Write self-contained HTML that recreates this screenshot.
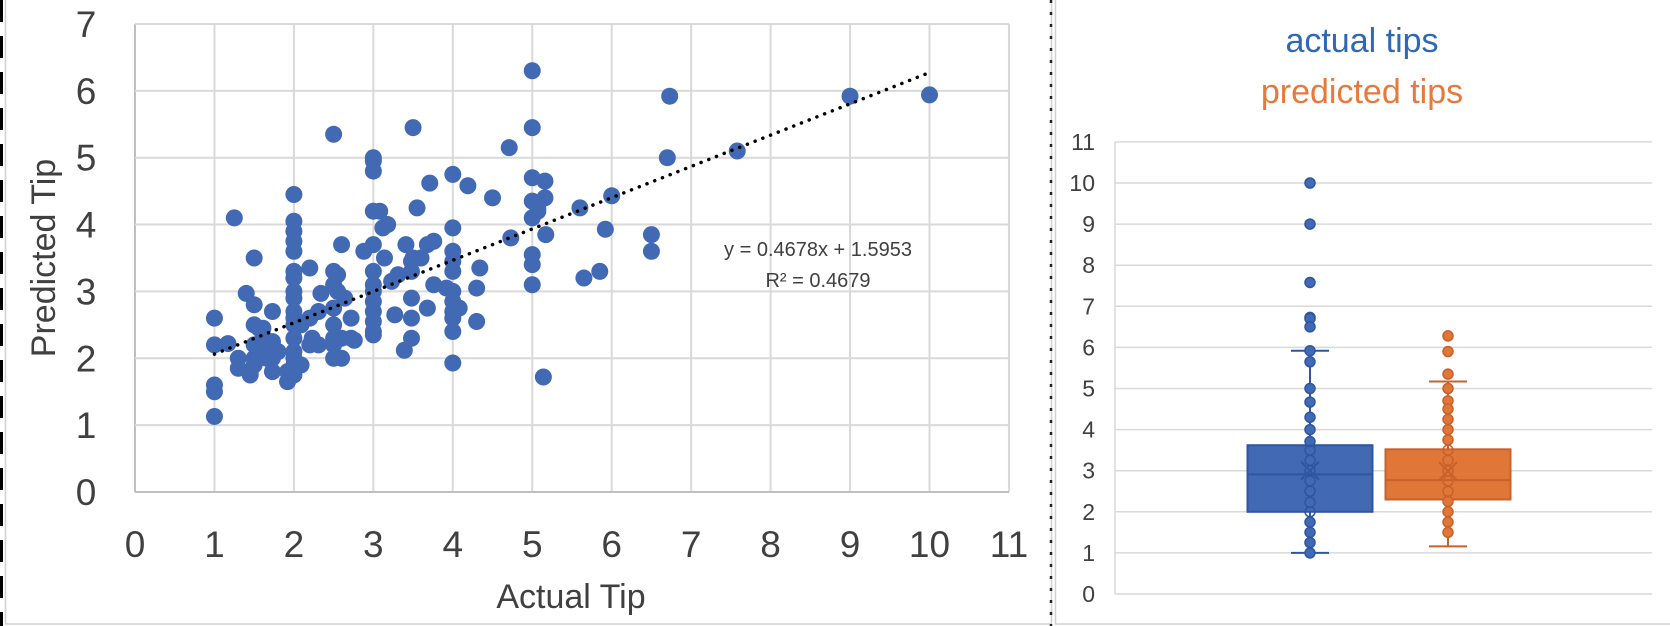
<!DOCTYPE html>
<html><head><meta charset="utf-8"><style>
html,body{margin:0;padding:0;background:#fff;width:1670px;height:626px;overflow:hidden}
svg text{font-family:"Liberation Sans",sans-serif}
</style></head><body>
<svg id="svg" width="1670" height="626" xmlns="http://www.w3.org/2000/svg">
<line x1="1.5" y1="0" x2="1.5" y2="626" stroke="#000" stroke-width="3" stroke-dasharray="22,14"/>
<rect x="5.5" y="-2" width="1046" height="626" fill="none" stroke="#d0d0d0" stroke-width="1.5"/>
<line x1="1051" y1="0" x2="1051" y2="626" stroke="#222" stroke-width="2.5" stroke-dasharray="3,9"/>
<rect x="1055.5" y="-2" width="620" height="626" fill="none" stroke="#d0d0d0" stroke-width="1.5"/>
<g id="scatter"></g>
<g id="box"></g>
</svg>
<script>
const NS='http://www.w3.org/2000/svg';
function mk(tag,attrs,parent){const e=document.createElementNS(NS,tag);for(const k in attrs)e.setAttribute(k,attrs[k]);parent.appendChild(e);return e;}

// ---------- scatter data ----------
const actualTip=[1,1,1,1,1,1.17,1.25,1.3,1.3,1.4,1.45,1.45,1.5,1.5,1.5,1.5,1.5,1.5,1.56,1.56,1.56,1.61,1.61,1.66,1.66,1.73,1.73,1.73,1.73,1.8,1.92,1.92,
2,2,2,2,2,2,2,2,2,2,2,2,2,2,2,2,2,2.09,2.09,2.2,2.2,2.2,2.23,2.31,2.31,2.34,2.5,2.5,2.5,2.5,2.5,2.5,2.5,2.5,2.55,2.55,2.6,2.6,2.6,2.64,2.72,2.72,2.76,2.88,
3,3,3,3,3,3,3,3,3,3,3,3,3,3.08,3.12,3.14,3.18,3.23,3.27,3.31,3.39,3.41,3.48,3.48,3.48,3.48,3.48,3.5,3.5,3.55,3.6,3.68,3.68,3.71,3.76,3.76,3.92,
4,4,4,4,4,4,4,4,4,4,4,4.08,4.19,4.3,4.3,4.34,4.5,4.71,4.73,5,5,5,5,5,5,5,5,5.07,5.07,5.14,5.16,5.16,5.17,5.6,5.65,5.85,5.92,6,6.5,6.5,6.7,6.73,7.58,9,10];
const predictedTip=[1.13,1.5,1.6,2.2,2.6,2.22,4.1,2.0,1.85,2.97,1.8,1.75,3.5,2.5,2.8,2.0,1.9,2.2,2.45,2.1,2.0,2.45,2.3,2.0,2.1,2.7,2.25,2.0,1.8,2.1,1.65,1.8,
4.45,4.05,3.9,3.75,3.6,3.3,3.2,3.0,2.9,2.7,2.6,2.5,2.3,2.1,2.0,1.9,1.75,1.9,2.5,3.35,2.2,2.6,2.3,2.7,2.2,2.97,5.35,3.3,3.1,2.75,2.5,2.3,2.2,2.0,3.0,3.25,3.7,2.0,2.3,2.9,2.6,2.3,2.27,3.6,
5.0,4.95,4.8,4.2,3.7,3.3,3.1,3.0,2.85,2.7,2.55,2.4,2.35,4.2,3.95,3.5,4.0,3.15,2.65,3.25,2.12,3.7,3.45,3.3,2.9,2.3,2.6,5.45,3.5,4.25,3.5,3.7,2.75,4.62,3.75,3.1,3.05,
4.75,3.95,3.6,3.45,3.3,3.0,2.85,2.7,2.6,2.4,1.93,2.75,4.58,3.05,2.55,3.35,4.4,5.15,3.8,6.3,5.45,4.7,4.35,4.1,3.55,3.4,3.1,4.2,4.25,1.72,4.4,4.65,3.85,4.25,3.2,3.3,3.93,4.43,3.6,3.85,5.0,5.92,5.1,5.92,5.94];
const xTicks=[0,1,2,3,4,5,6,7,8,9,10,11];
const yTicks=[0,1,2,3,4,5,6,7];
const trendSlope=0.4678, trendIntercept=1.5953;
const trendRange=[1,10];

const sx=v=>135+v*79.45, sy=v=>492-v*66.86;
const sc=document.getElementById('scatter');
xTicks.forEach(t=>{const l=mk('line',{x1:sx(t),x2:sx(t),y1:sy(7),y2:sy(0),stroke:t===0?'#bfbfbf':'#d9d9d9','stroke-width':2},sc);

const tx=mk('text',{x:sx(t),y:557,'text-anchor':'middle','font-size':37,fill:'#404040'},sc);tx.textContent=t;
});
yTicks.forEach(t=>{const l=mk('line',{x1:sx(0),x2:sx(11),y1:sy(t),y2:sy(t),stroke:t===0?'#bfbfbf':'#d9d9d9','stroke-width':2},sc);

const tx=mk('text',{x:86,y:sy(t)+13,'text-anchor':'middle','font-size':37,fill:'#404040'},sc);tx.textContent=t;
});
actualTip.forEach((a,i)=>{const c=mk('circle',{cx:sx(a),cy:sy(predictedTip[i]),r:8.5,fill:'#4169b4'},sc);
});
const tl=mk('line',{x1:sx(trendRange[0]),y1:sy(trendSlope*trendRange[0]+trendIntercept),x2:sx(trendRange[1]),y2:sy(trendSlope*trendRange[1]+trendIntercept),stroke:'#000','stroke-width':3.5,'stroke-dasharray':'0.1,8.2','stroke-linecap':'round'},sc);

let t1=mk('text',{x:818,y:256,'text-anchor':'middle','font-size':20,fill:'#404040'},sc);t1.textContent='y = 0.4678x + 1.5953';

let t2=mk('text',{x:818,y:287,'text-anchor':'middle','font-size':20,fill:'#404040'},sc);t2.textContent='R² = 0.4679';

let xt=mk('text',{x:571,y:608,'text-anchor':'middle','font-size':34,fill:'#404040'},sc);xt.textContent='Actual Tip';

let yt=mk('text',{x:0,y:0,'text-anchor':'middle','font-size':34,fill:'#404040',transform:'translate(55,258) rotate(-90)'},sc);yt.textContent='Predicted Tip';


// ---------- box plot data ----------
const boxSeries=['actual tips','predicted tips'];
const boxQ1=[2.0,2.3];
const boxMedian=[2.91,2.77];
const boxQ3=[3.62,3.52];
const boxMean=[3.0,2.99];
const whiskerLow=[1.0,1.16];
const whiskerHigh=[5.92,5.17];
const blueValues=[10,9,7.58,6.73,6.7,6.5,5.92,5.65,5,4.67,4.3,4.0,3.71,3.5,3.25,3.0,2.75,2.5,2.23,2.0,1.75,1.5,1.25,1.0];
const orangeValues=[6.28,5.9,5.35,5.0,4.7,4.5,4.25,4.0,3.75,3.5,3.25,3.0,2.75,2.5,2.25,2.0,1.75,1.5];
const boxYTicks=[0,1,2,3,4,5,6,7,8,9,10,11];

const by=v=>594-v*41.1;
const bx=document.getElementById('box');
const fills=['#4169b4','#e07638'],strokes=['#2f56a0','#c8612a'],titleCols=['#2e69b5','#e8793a'];
const centers=[1310,1448],halfW=62.5,capW=19;
boxYTicks.forEach(t=>{const l=mk('line',{x1:1115,x2:1652,y1:by(t),y2:by(t),stroke:'#d9d9d9','stroke-width':1.5},bx);

const tx=mk('text',{x:1095,y:by(t)+8,'text-anchor':'end','font-size':23,fill:'#404040'},bx);tx.textContent=t;
});
const ax=mk('line',{x1:1115,x2:1115,y1:by(11),y2:by(0),stroke:'#d9d9d9','stroke-width':1.5},bx);

boxSeries.forEach((s,i)=>{const tx=mk('text',{x:1362,y:i===0?52:103,'text-anchor':'middle','font-size':34,fill:titleCols[i]},bx);tx.textContent=s;
});
const vals=[blueValues,orangeValues];
centers.forEach((c,i)=>{
const w=mk('line',{x1:c,x2:c,y1:by(whiskerLow[i]),y2:by(whiskerHigh[i]),stroke:strokes[i],'stroke-width':2},bx);

[whiskerLow[i],whiskerHigh[i]].forEach(v=>{const cp=mk('line',{x1:c-capW,x2:c+capW,y1:by(v),y2:by(v),stroke:strokes[i],'stroke-width':2},bx);
});
const r=mk('rect',{x:c-halfW,y:by(boxQ3[i]),width:halfW*2,height:by(boxQ1[i])-by(boxQ3[i]),fill:fills[i],stroke:strokes[i],'stroke-width':2},bx);

const m=mk('line',{x1:c-halfW,x2:c+halfW,y1:by(boxMedian[i]),y2:by(boxMedian[i]),stroke:strokes[i],'stroke-width':2},bx);

vals[i].forEach(v=>{const inBox=v>=boxQ1[i]&&v<=boxQ3[i];const p=mk('circle',{cx:c,cy:by(v),r:5,fill:inBox?'none':fills[i],stroke:strokes[i],'stroke-width':1.5},bx);
});
const my=by(boxMean[i]);
const mx=mk('path',{d:`M${c-9} ${my-9}L${c+9} ${my+9}M${c+9} ${my-9}L${c-9} ${my+9}`,stroke:strokes[i],'stroke-width':2,fill:'none'},bx);

});
</script>
</body></html>
